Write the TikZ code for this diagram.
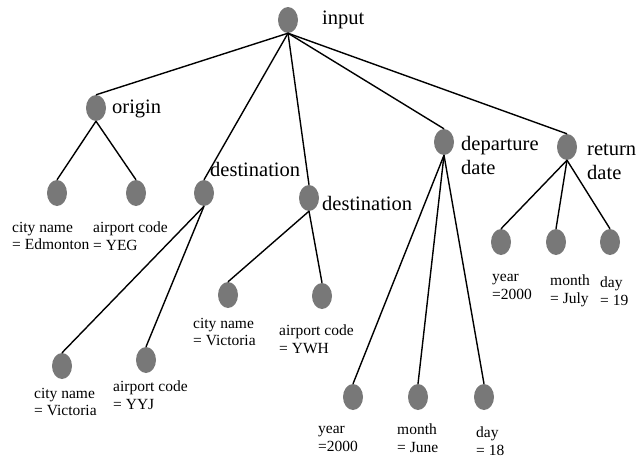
\documentclass[tikz,border=0pt]{standalone}
\usepackage{fontspec}
\setmainfont{Liberation Serif}
\usetikzlibrary{shapes.geometric}
\begin{document}
\begin{tikzpicture}[x=1pt,y=-1pt,
  leaf/.style={ellipse,fill=black!53,minimum width=20pt,minimum height=26pt,inner sep=0pt},
  edge/.style={draw=black,line width=1.4pt},
  biglabel/.style={anchor=west,inner sep=0pt,align=left,font=\fontsize{20.5}{24}\selectfont},
  smalllabel/.style={anchor=west,inner sep=0pt,align=left,font=\fontsize{15.5}{17.5}\selectfont}]
\useasboundingbox (0,0) rectangle (640,459);

% tree nodes
\node[leaf] (in) at (288,20) {};
\node[leaf] (orig) at (96,108) {};
\node[leaf] (ocity) at (57,193) {};
\node[leaf] (ocode) at (136,193) {};
\node[leaf] (dA) at (204,193) {};
\node[leaf] (dAcity) at (62,366) {};
\node[leaf] (dAcode) at (146,360) {};
\node[leaf] (dB) at (309,198) {};
\node[leaf] (dBcity) at (228,295) {};
\node[leaf] (dBcode) at (322,296) {};
\node[leaf] (dep) at (444,142) {};
\node[leaf] (depy) at (353,397) {};
\node[leaf] (depm) at (418,397) {};
\node[leaf] (depd) at (484,397) {};
\node[leaf] (ret) at (567,147) {};
\node[leaf] (rety) at (501,242) {};
\node[leaf] (retm) at (556,242) {};
\node[leaf] (retd) at (610,242) {};

% connectors
\foreach \c in {orig,dA,dB,dep,ret} \draw[edge] (in.south) -- (\c.north);
\foreach \c in {ocity,ocode} \draw[edge] (orig.south) -- (\c.north);
\foreach \c in {dAcity,dAcode} \draw[edge] (dA.south) -- (\c.north);
\foreach \c in {dBcity,dBcode} \draw[edge] (dB.south) -- (\c.north);
\foreach \c in {depy,depm,depd} \draw[edge] (dep.south) -- (\c.north);
\foreach \c in {rety,retm,retd} \draw[edge] (ret.south) -- (\c.north);

% inner node labels
\node[biglabel] (lin) at (322,20) {input};
\node[biglabel] (lorig) at (112,109) {origin};
\node[biglabel] (ldA) at (210,169) {destination};
\node[biglabel] (ldB) at (322,203) {destination};
\node[biglabel] (ldep) at (461,155) {departure\\date};
\node[biglabel] (lret) at (587,162) {return\\date};

% leaf labels
\node[smalllabel] (locity) at (12,236) {city name\\= Edmonton};
\node[smalllabel] (locode) at (93,236) {airport code\\= YEG};
\node[smalllabel] (ldAcity) at (34,402) {city name\\= Victoria};
\node[smalllabel] (ldAcode) at (113,395) {airport code\\= YYJ};
\node[smalllabel] (ldBcity) at (193,332) {city name\\= Victoria};
\node[smalllabel] (ldBcode) at (279,339) {airport code\\= YWH};
\node[smalllabel] (ldepy) at (318,439) {year\\=2000};
\node[smalllabel] (ldepm) at (397,438) {month\\= June};
\node[smalllabel] (ldepd) at (476,441) {day\\= 18};
\node[smalllabel] (lrety) at (492,287) {year\\=2000};
\node[smalllabel] (lretm) at (550,291) {month\\= July};
\node[smalllabel] (lretd) at (600,291) {day\\= 19};
\end{tikzpicture}
\end{document}
